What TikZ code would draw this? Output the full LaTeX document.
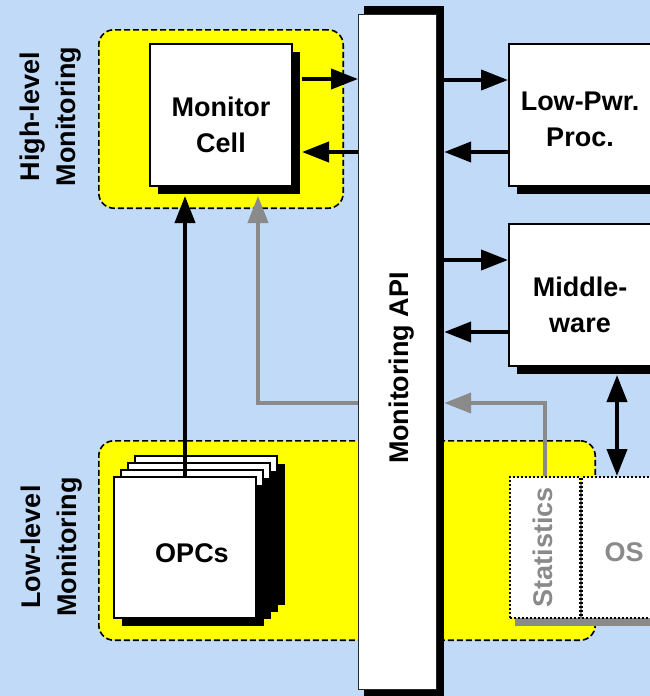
\documentclass[tikz,border=0pt]{standalone}
\usepackage{fontspec}
\setmainfont{Liberation Sans}
\usetikzlibrary{arrows.meta,calc,shadows}
\definecolor{bgblue}{RGB}{193,218,247}
\definecolor{ylw}{RGB}{255,255,0}
\definecolor{grc}{RGB}{138,138,138}
\begin{document}
\begin{tikzpicture}[x=1pt,y=-1pt,
  font=\bfseries\fontsize{27}{36}\selectfont,
  box/.style={draw=black, line width=2pt, fill=white, minimum width=142pt, minimum height=142pt, inner sep=0pt},
  sheet/.style={box, minimum height=141pt},
  sh/.style={general shadow={fill=black, shadow xshift=8pt, shadow yshift=-8pt}},
  arr/.style={line width=4pt, -{Triangle[length=27pt,width=20pt]}},
  dbl/.style={line width=4pt, {Triangle[length=27pt,width=20pt]}-{Triangle[length=27pt,width=20pt]}},
  garr/.style={arr, draw=grc, color=grc},
  grp/.style={fill=ylw, draw=black, line width=1.6pt, dash pattern=on 6pt off 3pt, rounded corners=15pt, inner sep=0pt},
  statbox/.style={fill=white, draw=black, line width=2pt, dotted, inner sep=0pt},
  lbl/.style={align=center, inner sep=0pt},
  glbl/.style={lbl, text=grc}]
% background
\fill[bgblue] (0,0) rectangle (650,696);
\useasboundingbox (0,0) rectangle (650,696);
% groups
\node[grp, minimum width=244.4pt, minimum height=178.4pt] (hl) at (221,119) {};
\node[grp, minimum width=496.4pt, minimum height=199.4pt] (ll) at (347,540.5) {};
\node[lbl, rotate=90] (hlt) at (51,116.5) {High-level\\Monitoring};
\node[lbl, rotate=90] (llt) at (52,547) {Low-level\\Monitoring};
% API bar
\node[fill=black, minimum width=80pt, minimum height=694pt, inner sep=0pt] (apish) at (404,353) {};
\node[fill=white, draw=black!85, line width=1.2pt, minimum width=77.8pt, minimum height=674.8pt, inner sep=0pt] (api) at (397.5,352) {};
\node[lbl, rotate=90] (apit) at (401.5,368) {Monitoring API};
% boxes
\node[box, sh] (mc) at (221,115) {};
\node[lbl] (mct) at (221,124.5) {Monitor\\Cell};
\node[box, sh] (lpp) at (580,115) {};
\node[lbl] (lppt) at (580,119) {Low-Pwr.\\Proc.};
\node[box, sh] (mw) at (580,295) {};
\node[lbl] (mwt) at (580,304.5) {Middle-\\ware};
% OPC sheets
\node[sheet, sh] (opc3) at (206,526.5) {};
\node[sheet, sh] (opc2) at (199,533.5) {};
\node[sheet, sh] (opc1) at (192,540.5) {};
\node[sheet, sh] (opc0) at (185,547.5) {};
\node[lbl] (opct) at (192,553) {OPCs};
% statistics / OS
\fill[grc] (515,483) rectangle (660,626);
\node[statbox, minimum width=70pt, minimum height=141pt] (st) at (545,547.5) {};
\node[statbox, minimum width=77pt, minimum height=141pt] (os) at (620.5,547.5) {};
\node[glbl, rotate=90] (stt) at (542.5,547) {Statistics};
\node[glbl] (ost) at (624,552) {OS};
% helper coordinates
\coordinate (mcr) at ($(mc.east)+(9,0)$);
\coordinate (mcb) at ($(mc.south)+(0,9)$);
\coordinate (ya) at (0,79);
\coordinate (yb) at (0,152);
\coordinate (yc) at (0,80);
\coordinate (yd) at (0,152);
\coordinate (ye) at (0,260);
\coordinate (yf) at (0,332);
\coordinate (gc) at (258,403);
\coordinate (gs) at (545,403);
\coordinate (dx) at (617,0);
% connectors
\draw[arr] (mcr |- ya) -- (api.west |- ya);
\draw[arr] (api.west |- yb) -- (mcr |- yb);
\draw[arr] (apish.east |- yc) -- (lpp.west |- yc);
\draw[arr] (lpp.west |- yd) -- (apish.east |- yd);
\draw[arr] (apish.east |- ye) -- (mw.west |- ye);
\draw[arr] (mw.west |- yf) -- (apish.east |- yf);
\draw[arr] (opc0.north) -- (opc0.north |- mcb);
\draw[garr] (api.west |- gc) -- (gc) -- (gc |- mcb);
\draw[garr] (st.north -| gs) -- (gs) -- (apish.east |- gs);
\draw[dbl] ($(mw.south -| dx)+(0,8)$) -- (os.north -| dx);
\end{tikzpicture}
\end{document}
